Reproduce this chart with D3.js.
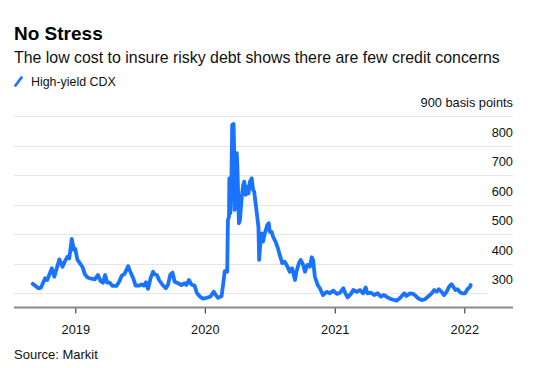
<!DOCTYPE html>
<html>
<head>
<meta charset="utf-8">
<script src="https://cdn.jsdelivr.net/npm/d3@7"></script>
<style>
  html, body { margin: 0; padding: 0; background: #fff; }
  svg { display: block; font-family: "Liberation Sans", Arial, Helvetica, sans-serif; }
</style>
</head>
<body>
<svg id="chart" width="555" height="368"></svg>
<script>
const title = "No Stress";
const subtitle = "The low cost to insure risky debt shows there are few credit concerns";
const seriesName = "High-yield CDX";
const source = "Source: Markit";

const yTicks = [300, 400, 500, 600, 700, 800, 900];
const yUnit = "basis points";
const xTickYears = ["2019-01-01", "2020-01-01", "2021-01-01", "2022-01-01"];

const dates = [
  "2018-09-03","2018-09-19","2018-09-26","2018-10-08","2018-10-14","2018-10-27","2018-11-03","2018-11-17",
  "2018-11-26","2018-12-03","2018-12-10","2018-12-15","2018-12-22","2018-12-28","2019-01-01","2019-01-07",
  "2019-01-14","2019-01-22","2019-01-28","2019-02-04","2019-02-11","2019-02-25","2019-03-06","2019-03-13",
  "2019-03-20","2019-03-26","2019-04-01","2019-04-08","2019-04-16","2019-04-27","2019-05-05","2019-05-12",
  "2019-05-20","2019-05-30","2019-06-03","2019-06-13","2019-06-20","2019-06-30","2019-07-06","2019-07-13",
  "2019-07-19","2019-07-25","2019-08-01","2019-08-08","2019-08-13","2019-08-19","2019-08-25","2019-09-04",
  "2019-09-13","2019-09-19","2019-09-26","2019-10-02","2019-10-08","2019-10-18","2019-10-27","2019-11-05",
  "2019-11-10","2019-11-17","2019-11-24","2019-12-03","2019-12-10","2019-12-18","2019-12-27",
  "2020-01-07","2020-01-17","2020-01-26","2020-02-01","2020-02-07","2020-02-17","2020-02-22","2020-02-26",
  "2020-03-04","2020-03-06","2020-03-09","2020-03-10","2020-03-12","2020-03-13","2020-03-16","2020-03-18",
  "2020-03-22","2020-03-24","2020-03-25","2020-03-27","2020-03-31","2020-04-02","2020-04-06","2020-04-09",
  "2020-04-14","2020-04-18","2020-04-21","2020-04-25","2020-04-29","2020-05-03","2020-05-07","2020-05-12",
  "2020-05-16","2020-05-19","2020-05-23","2020-05-31","2020-06-02","2020-06-06","2020-06-09","2020-06-13",
  "2020-06-18","2020-06-25","2020-06-29","2020-07-02","2020-07-07","2020-07-11","2020-07-18","2020-07-25",
  "2020-07-30","2020-08-06","2020-08-13","2020-08-21","2020-08-27","2020-09-03","2020-09-11","2020-09-15",
  "2020-09-22","2020-09-27","2020-10-04","2020-10-09","2020-10-16","2020-10-23","2020-10-28","2020-11-01",
  "2020-11-06","2020-11-14","2020-11-20","2020-11-29","2020-12-09","2020-12-18","2020-12-28",
  "2021-01-07","2021-01-16","2021-01-25","2021-01-30","2021-02-06","2021-02-15","2021-02-22","2021-03-04",
  "2021-03-13","2021-03-22","2021-03-29","2021-04-03","2021-04-13","2021-04-22","2021-05-02","2021-05-11",
  "2021-05-20","2021-05-30","2021-06-10","2021-06-24","2021-07-03","2021-07-16","2021-07-22","2021-08-01",
  "2021-08-10","2021-08-19","2021-08-24","2021-09-03","2021-09-12","2021-09-21","2021-10-01","2021-10-08",
  "2021-10-15","2021-10-21","2021-10-29","2021-11-05","2021-11-12","2021-11-19","2021-11-26","2021-12-01",
  "2021-12-07","2021-12-13","2021-12-19","2021-12-26","2022-01-03","2022-01-10","2022-01-17","2022-01-19"
];
const spreads = [
  332,317,319,351,345,385,356,415,
  390,409,424,418,484,447,450,413,
  402,387,364,354,351,347,362,342,
  336,362,336,336,325,325,340,360,
  366,392,379,351,326,326,330,326,
  337,315,351,373,364,362,345,328,
  317,328,364,370,339,334,328,334,
  328,345,330,326,300,289,282,
  285,289,305,294,285,290,334,375,
  373,548,559,689,683,571,695,870,
  873,751,582,650,774,717,537,548,
  627,666,678,633,661,638,678,689,
  650,644,605,525,413,480,503,475,
  503,531,537,508,508,492,475,452,
  430,402,407,390,373,385,345,373,
  402,413,396,373,396,390,422,413,
  356,328,317,294,305,300,309,
  298,302,317,302,286,297,311,305,
  311,300,320,300,302,294,300,289,
  294,286,280,275,283,300,291,300,
  298,289,283,277,280,289,300,311,
  305,314,305,294,305,322,331,322,
  311,314,305,300,300,314,322,328
];

const parse = d3.utcParse("%Y-%m-%d");
const data = dates.map((d, i) => ({ date: parse(d), value: spreads[i] }));

const svg = d3.select("#chart");
const plotLeft = 14, plotRight = 513;

const x = d3.scaleUtc()
  .domain([parse(xTickYears[0]), parse(xTickYears[3])])
  .range([75.3, 464.3]);
const y = d3.scaleLinear().domain([300, 900]).range([293.3, 116]);
const axisY = 307.5;

// Titles
svg.append("text").attr("x", 14).attr("y", 39.5)
  .attr("font-size", 19).attr("font-weight", 700).attr("fill", "#000").text(title);
svg.append("text").attr("x", 14).attr("y", 62.5)
  .attr("font-size", 15.9).attr("fill", "#111").text(subtitle);

// Legend
svg.append("line").attr("x1", 15.5).attr("y1", 85.5).attr("x2", 21.5).attr("y2", 77.5)
  .attr("stroke", "#1a73ff").attr("stroke-width", 2.8).attr("stroke-linecap", "round");
svg.append("text").attr("x", 31).attr("y", 85.5)
  .attr("font-size", 12.4).attr("fill", "#111").text(seriesName);

// Gridlines
svg.append("g").selectAll("line").data(yTicks).join("line")
  .attr("x1", plotLeft)
  .attr("x2", d => d === 300 ? 488 : plotRight)
  .attr("y1", d => Math.round(y(d)) + 0.5)
  .attr("y2", d => Math.round(y(d)) + 0.5)
  .attr("stroke", "#e6e6e6").attr("stroke-width", 1);

// Y labels
svg.append("g").selectAll("text").data(yTicks).join("text")
  .attr("x", plotRight).attr("y", d => y(d) - 9)
  .attr("text-anchor", "end").attr("font-size", 12.8).attr("fill", "#111")
  .text(d => d === 900 ? d + " " + yUnit : d);

// X axis
const xAxis = d3.axisBottom(x)
  .tickValues(xTickYears.map(parse))
  .tickFormat(d3.utcFormat("%Y"))
  .tickSize(6).tickSizeOuter(0).tickPadding(11);
const gx = svg.append("g").attr("transform", `translate(0,${axisY})`).call(xAxis);
gx.select(".domain").remove();
gx.selectAll(".tick line").attr("stroke", "#222").attr("stroke-width", 1);
gx.selectAll(".tick text").attr("font-size", 12.8).attr("fill", "#111")
  .attr("font-family", "Liberation Sans, Arial, sans-serif");
svg.append("line").attr("x1", plotLeft).attr("x2", plotRight)
  .attr("y1", axisY).attr("y2", axisY)
  .attr("stroke", "#8a8a8a").attr("stroke-width", 2);

// Line
const line = d3.line().x(d => x(d.date)).y(d => y(d.value)).curve(d3.curveLinear);
svg.append("path").datum(data)
  .attr("d", line).attr("fill", "none")
  .attr("stroke", "#1a73ff").attr("stroke-width", 3.8)
  .attr("stroke-linejoin", "round").attr("stroke-linecap", "round");

// Source
svg.append("text").attr("x", 14).attr("y", 358.5)
  .attr("font-size", 13).attr("fill", "#111").text(source);
</script>
</body>
</html>
